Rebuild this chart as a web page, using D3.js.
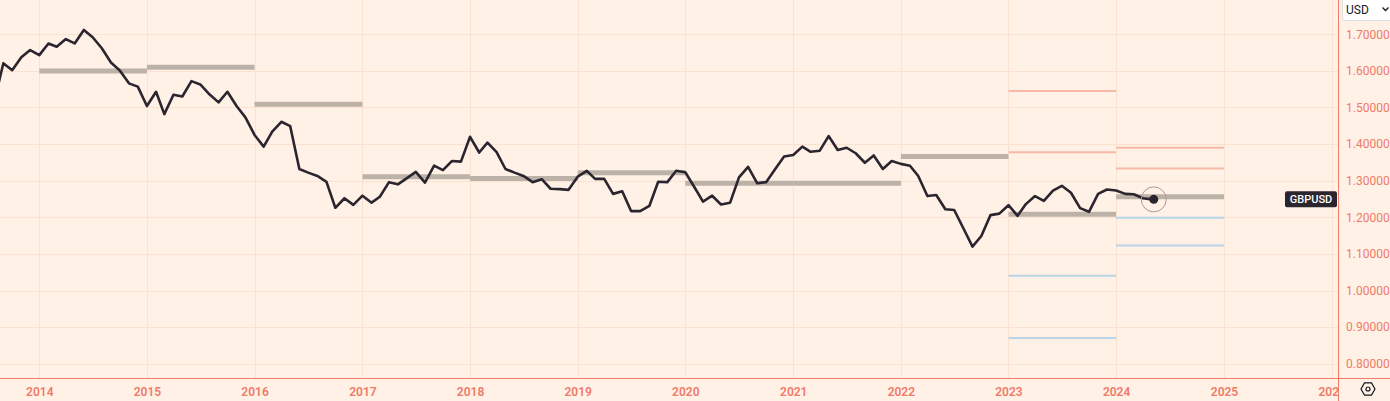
<!DOCTYPE html>
<html><head><meta charset="utf-8">
<script src="https://cdn.jsdelivr.net/npm/d3@7"></script>
<style>html,body{margin:0;padding:0;background:#fff1e6;overflow:hidden}svg{display:block}</style>
</head><body>
<svg id="c" width="1390" height="401"></svg>
<script>
// ---- data ----
const seriesName = "GBPUSD";
const currency = "USD";
const firstMonth = "2013-08-01";
const closes = [
  1.515, 1.621, 1.602, 1.637, 1.657,
  1.643, 1.675, 1.666, 1.687, 1.675, 1.712, 1.692, 1.662, 1.623, 1.601, 1.566, 1.557,
  1.504, 1.543, 1.482, 1.535, 1.530, 1.572, 1.563, 1.536, 1.514, 1.543, 1.504, 1.473,
  1.425, 1.393, 1.434, 1.461, 1.449, 1.332, 1.322, 1.313, 1.297, 1.226, 1.252, 1.234,
  1.259, 1.240, 1.256, 1.296, 1.290, 1.307, 1.324, 1.295, 1.341, 1.329, 1.354, 1.352,
  1.420, 1.377, 1.404, 1.378, 1.332, 1.322, 1.313, 1.296, 1.304, 1.278, 1.277, 1.275,
  1.311, 1.327, 1.305, 1.305, 1.264, 1.271, 1.217, 1.217, 1.231, 1.297, 1.296, 1.327,
  1.323, 1.282, 1.243, 1.259, 1.235, 1.240, 1.309, 1.338, 1.293, 1.296, 1.332, 1.366,
  1.370, 1.393, 1.379, 1.382, 1.422, 1.384, 1.390, 1.375, 1.349, 1.369, 1.332, 1.354,
  1.346, 1.341, 1.313, 1.258, 1.261, 1.222, 1.220, 1.170, 1.120, 1.149, 1.206, 1.210,
  1.233, 1.204, 1.236, 1.258, 1.245, 1.273, 1.286, 1.267, 1.225, 1.215, 1.264, 1.276,
  1.273, 1.264, 1.263, 1.252, 1.249
];
const barYears = [2014, 2015, 2016, 2017, 2018, 2019, 2020, 2021, 2022, 2023, 2024];
const barValues = [1.600, 1.610, 1.509, 1.311, 1.306, 1.322, 1.293, 1.293, 1.366, 1.208, 1.256];
const rangeYears = [2023, 2024];
const highLines = [[1.545, 1.378], [1.390, 1.333]];
const lowLines = [[1.040, 0.870], [1.199, 1.123]];
const yTicks = [0.8, 0.9, 1.0, 1.1, 1.2, 1.3, 1.4, 1.5, 1.6, 1.7];
const xTickYears = [2014, 2015, 2016, 2017, 2018, 2019, 2020, 2021, 2022, 2023, 2024, 2025, 2026];

// ---- layout ----
const W = 1390, H = 401, plotR = 1338, plotB = 378;
const col = {bg:"#fff1e6", grid:"#fbe2d0", axis:"#f27a68", tick:"#f07a6a", line:"#2b2530",
             bar:"#bdb2a8", hi:"#f8b9a9", lo:"#b9d3e8"};

const svg = d3.select("#c");
svg.append("rect").attr("width", W).attr("height", H).attr("fill", col.bg);

const x = d3.scaleUtc().domain([new Date(Date.UTC(2014,0,1)), new Date(Date.UTC(2025,0,1))]).range([39.3, 1224]);
const y = d3.scaleLinear().domain([0.8, 1.7]).range([363.7, 34.3]);

const defs = svg.append("defs");
defs.append("clipPath").attr("id","plot").append("rect").attr("x",0).attr("y",0).attr("width",plotR).attr("height",plotB);

const yr = v => new Date(Date.UTC(v,0,1));

// grid
const g = svg.append("g").attr("clip-path","url(#plot)");
g.selectAll(".hg").data(yTicks).join("line")
  .attr("x1",0).attr("x2",plotR).attr("y1",d=>Math.round(y(d))+0.5).attr("y2",d=>Math.round(y(d))+0.5)
  .attr("stroke",col.grid).attr("stroke-width",1);
g.selectAll(".vg").data(xTickYears).join("line")
  .attr("y1",0).attr("y2",plotB).attr("x1",d=>Math.round(x(yr(d)))+0.5).attr("x2",d=>Math.round(x(yr(d)))+0.5)
  .attr("stroke",col.grid).attr("stroke-width",1);

// annual gray bars
g.selectAll(".bar").data(barYears).join("line")
  .attr("x1",d=>x(yr(d))).attr("x2",d=>x(yr(d+1)))
  .attr("y1",(d,i)=>y(barValues[i])).attr("y2",(d,i)=>y(barValues[i]))
  .attr("stroke",col.bar).attr("stroke-width",5);

// range lines
rangeYears.forEach((ry,i)=>{
  highLines[i].forEach(v=>{
    g.append("line").attr("x1",x(yr(ry))).attr("x2",x(yr(ry+1))).attr("y1",y(v)).attr("y2",y(v))
      .attr("stroke",col.hi).attr("stroke-width",2);
  });
  lowLines[i].forEach(v=>{
    g.append("line").attr("x1",x(yr(ry))).attr("x2",x(yr(ry+1))).attr("y1",y(v)).attr("y2",y(v))
      .attr("stroke",col.lo).attr("stroke-width",2);
  });
});

// price line
const start = new Date(firstMonth + "T00:00:00Z");
const pts = closes.map((v,i)=>({d:d3.utcMonth.offset(start,i), v}));
g.append("path").datum(pts)
  .attr("d", d3.line().x(p=>x(p.d)).y(p=>y(p.v)))
  .attr("fill","none").attr("stroke",col.line).attr("stroke-width",2.6).attr("stroke-linejoin","round");

const last = pts[pts.length-1];
g.append("circle").attr("cx",x(last.d)+2).attr("cy",y(last.v)).attr("r",12.5)
  .attr("fill","none").attr("stroke","#a99a94").attr("stroke-width",1);
g.append("circle").attr("cx",x(last.d)+2).attr("cy",y(last.v)).attr("r",4.5).attr("fill",col.line);

// series label
const lab = svg.append("g").attr("transform",`translate(1285,${y(last.v)})`);
lab.append("rect").attr("x",0).attr("y",-8).attr("width",52).attr("height",16).attr("rx",2).attr("fill",col.line);
lab.append("text").attr("x",26).attr("y",0).attr("dy","0.35em").attr("text-anchor","middle")
  .attr("fill","#fff").attr("font-family","Roboto, sans-serif").attr("font-size",11).attr("font-weight",500)
  .text(seriesName);

// axes lines
svg.append("line").attr("x1",plotR+0.5).attr("x2",plotR+0.5).attr("y1",0).attr("y2",H).attr("stroke",col.axis).attr("stroke-width",1);
svg.append("line").attr("x1",0).attr("x2",W).attr("y1",plotB+0.5).attr("y2",plotB+0.5).attr("stroke",col.axis).attr("stroke-width",1);

// y axis
const yAxis = svg.append("g").attr("transform",`translate(${plotR},0)`)
  .call(d3.axisRight(y).tickValues(yTicks).tickFormat(d3.format(".5f")).tickSize(0).tickPadding(8));
yAxis.select(".domain").remove();
yAxis.selectAll("text").attr("fill",col.tick).attr("font-family","Roboto, sans-serif").attr("font-size",12);

// x axis
defs.append("clipPath").attr("id","xclip").append("rect").attr("x",0).attr("y",plotB).attr("width",plotR).attr("height",H-plotB);
const xAxis = svg.append("g").attr("clip-path","url(#xclip)").append("g").attr("transform",`translate(0,${plotB})`)
  .call(d3.axisBottom(x).tickValues(xTickYears.map(yr)).tickFormat(d3.utcFormat("%Y")).tickSize(0).tickPadding(9));
xAxis.select(".domain").remove();
xAxis.selectAll("text").attr("fill",col.tick).attr("font-family","Roboto, sans-serif").attr("font-size",12).attr("font-weight",600);

// currency box
svg.append("rect").attr("x",1342.5).attr("y",-3).attr("width",50).attr("height",23.5).attr("rx",3)
  .attr("fill","#fff").attr("stroke","#dcdcdc");
svg.append("text").attr("x",1346).attr("y",14).attr("font-family","Roboto, sans-serif").attr("font-size",12)
  .attr("fill","#131722").text(currency);
svg.append("path").attr("d","M1382.5,7.5 L1385.5,10.5 L1388.5,7.5").attr("fill","none").attr("stroke","#131722").attr("stroke-width",1.3);

// settings icon
const hx = 1368, hy = 389, hr = 7;
const hex = d3.range(6).map(k=>[hx+hr*Math.cos(k*Math.PI/3), hy+hr*Math.sin(k*Math.PI/3)]);
svg.append("path").attr("d","M"+hex.join("L")+"Z").attr("fill","none").attr("stroke","#131722").attr("stroke-width",1.2);
svg.append("circle").attr("cx",hx).attr("cy",hy).attr("r",2).attr("fill","none").attr("stroke","#131722").attr("stroke-width",1.2);
</script>
</body></html>
